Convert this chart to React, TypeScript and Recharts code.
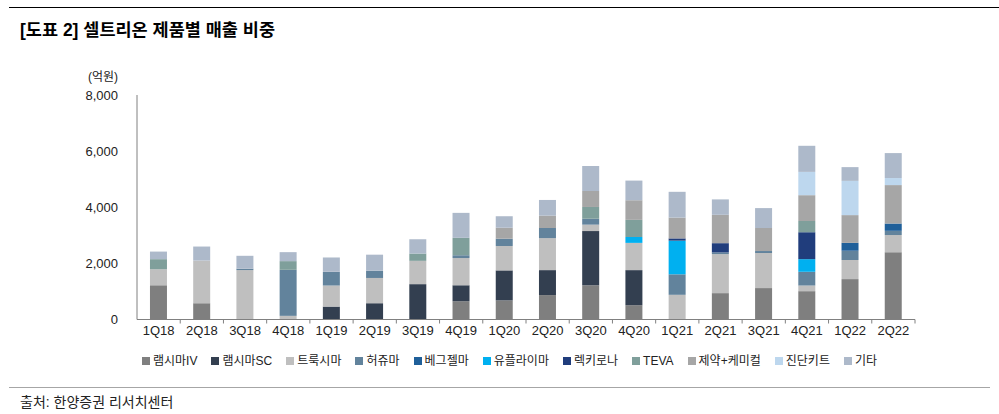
import React from 'react'
import { BarChart, Bar, XAxis, YAxis } from 'recharts'

const quarters = [
  '1Q18', '2Q18', '3Q18', '4Q18', '1Q19', '2Q19', '3Q19', '4Q19', '1Q20',
  '2Q20', '3Q20', '4Q20', '1Q21', '2Q21', '3Q21', '4Q21', '1Q22', '2Q22',
]

// 억원
const remsimaIV = [1220, 580, 0, 0, 0, 0, 0, 650, 680, 870, 1220, 510, 0, 940, 1120, 1010, 1440, 2400]
const remsimaSC = [0, 0, 0, 0, 460, 580, 1260, 570, 1070, 890, 1930, 1250, 0, 0, 0, 0, 0, 0]
const truxima = [570, 1520, 1760, 130, 750, 900, 830, 970, 870, 1140, 230, 970, 880, 1390, 1250, 200, 680, 610]
const herzuma = [0, 0, 50, 1640, 490, 260, 0, 100, 260, 360, 210, 0, 730, 60, 70, 490, 330, 150]
const vegzelma = [0, 0, 0, 0, 0, 0, 0, 0, 0, 0, 0, 0, 0, 0, 0, 0, 280, 260]
const yuflyma = [0, 0, 0, 0, 0, 0, 0, 0, 0, 0, 0, 210, 1200, 0, 0, 450, 0, 0]
const regkirona = [0, 0, 0, 0, 0, 0, 0, 0, 0, 0, 0, 0, 80, 330, 0, 960, 0, 0]
const teva = [360, 0, 0, 310, 0, 0, 260, 620, 0, 0, 420, 610, 0, 0, 0, 400, 0, 0]
const pharma = [0, 0, 0, 0, 0, 0, 0, 0, 390, 440, 570, 700, 740, 1010, 820, 920, 990, 1370]
const diagnostics = [0, 0, 0, 0, 0, 0, 0, 0, 0, 0, 0, 0, 0, 0, 0, 830, 1220, 250]
const others = [270, 500, 460, 320, 510, 570, 510, 890, 410, 560, 890, 700, 920, 550, 710, 930, 490, 890]

const yTicks = [0, 2000, 4000, 6000, 8000]

const series = [
  { key: 'iv', name: '램시마IV', color: '#7f7f7f', values: remsimaIV },
  { key: 'sc', name: '램시마SC', color: '#333f50', values: remsimaSC },
  { key: 'trux', name: '트룩시마', color: '#bfbfbf', values: truxima },
  { key: 'herz', name: '허쥬마', color: '#62839c', values: herzuma },
  { key: 'vegz', name: '베그젤마', color: '#1f5f99', values: vegzelma },
  { key: 'yuf', name: '유플라이마', color: '#00b0f0', values: yuflyma },
  { key: 'regk', name: '렉키로나', color: '#203d7c', values: regkirona },
  { key: 'teva', name: 'TEVA', color: '#7f9f9b', values: teva },
  { key: 'pharma', name: '제약+케미컬', color: '#a6a6a6', values: pharma },
  { key: 'diag', name: '진단키트', color: '#bdd7ee', values: diagnostics },
  { key: 'etc', name: '기타', color: '#adb9ca', values: others },
]

const data = quarters.map((q, i) => {
  const row: Record<string, string | number> = { q }
  series.forEach((s) => { row[s.key] = s.values[i] })
  return row
})

const FONT = '"Liberation Sans", Arial, "Noto Sans CJK KR", sans-serif'
const W = 999
const H = 414
const M = { top: 95, right: 84, bottom: 64.5, left: 0 }
const Y_AXIS_W = 137
const X_AXIS_H = 30
const PLOT_BOTTOM = H - M.bottom - X_AXIS_H
const BAND = (W - M.right - M.left - Y_AXIS_W) / quarters.length

const fmt = (n: number) => String(n).replace(/\B(?=(\d{3})+(?!\d))/g, ',')

function QuarterTick(props: any) {
  const { x, payload } = props
  return (
    <g>
      <line x1={x + BAND / 2} x2={x + BAND / 2} y1={PLOT_BOTTOM} y2={PLOT_BOTTOM + 4} stroke="#808080" />
      <text x={x} y={PLOT_BOTTOM + 11} textAnchor="middle" dominantBaseline="central" fontSize={13} fill="#222">
        {payload.value}
      </text>
    </g>
  )
}

export default function App() {
  return (
    <div style={{ position: 'absolute', left: 0, top: 0, width: W, height: H, background: '#fff', fontFamily: FONT, color: '#222' }}>
      <div style={{ position: 'absolute', left: 9, right: 0, top: 7, borderTop: '1.5px solid #000' }} />
      <div style={{ position: 'absolute', left: 20, top: 22, fontSize: 17.5, fontWeight: 'bold', color: '#000', lineHeight: 1, whiteSpace: 'nowrap' }}>
        [도표 2] 셀트리온 제품별 매출 비중
      </div>
      <div style={{ position: 'absolute', left: 88, top: 71, fontSize: 12, lineHeight: 1 }}>(억원)</div>

      <BarChart width={W} height={H} data={data} margin={M} barCategoryGap="30%" style={{ position: 'absolute', left: 0, top: 0, fontFamily: FONT }}>
        <XAxis dataKey="q" height={X_AXIS_H} interval={0} tickLine={false} axisLine={{ stroke: '#808080' }} tick={QuarterTick} />
        <YAxis
          width={Y_AXIS_W}
          domain={[0, 8000]}
          ticks={yTicks}
          tickFormatter={fmt}
          tickLine={false}
          tickSize={0}
          tickMargin={19}
          axisLine={{ stroke: '#808080' }}
          tick={{ fontSize: 13, fill: '#222' }}
        />
        {series.map((s) => (
          <Bar key={s.key} dataKey={s.key} name={s.name} stackId="sales" fill={s.color} isAnimationActive={false} />
        ))}
      </BarChart>

      <div style={{ position: 'absolute', left: 142, top: 354, display: 'flex', gap: 14, fontSize: 12, lineHeight: '14px', whiteSpace: 'nowrap' }}>
        {series.map((s) => (
          <div key={s.key} style={{ display: 'flex', alignItems: 'center' }}>
            <span style={{ width: 8, height: 8, background: s.color, marginRight: 3, display: 'inline-block' }} />
            <span>{s.name}</span>
          </div>
        ))}
      </div>

      <div style={{ position: 'absolute', left: 9, width: 981, top: 387, borderTop: '1.5px solid #a6a6a6' }} />
      <div style={{ position: 'absolute', left: 20, top: 395, fontSize: 14, lineHeight: 1, whiteSpace: 'nowrap' }}>
        출처: 한양증권 리서치센터
      </div>
    </div>
  )
}
